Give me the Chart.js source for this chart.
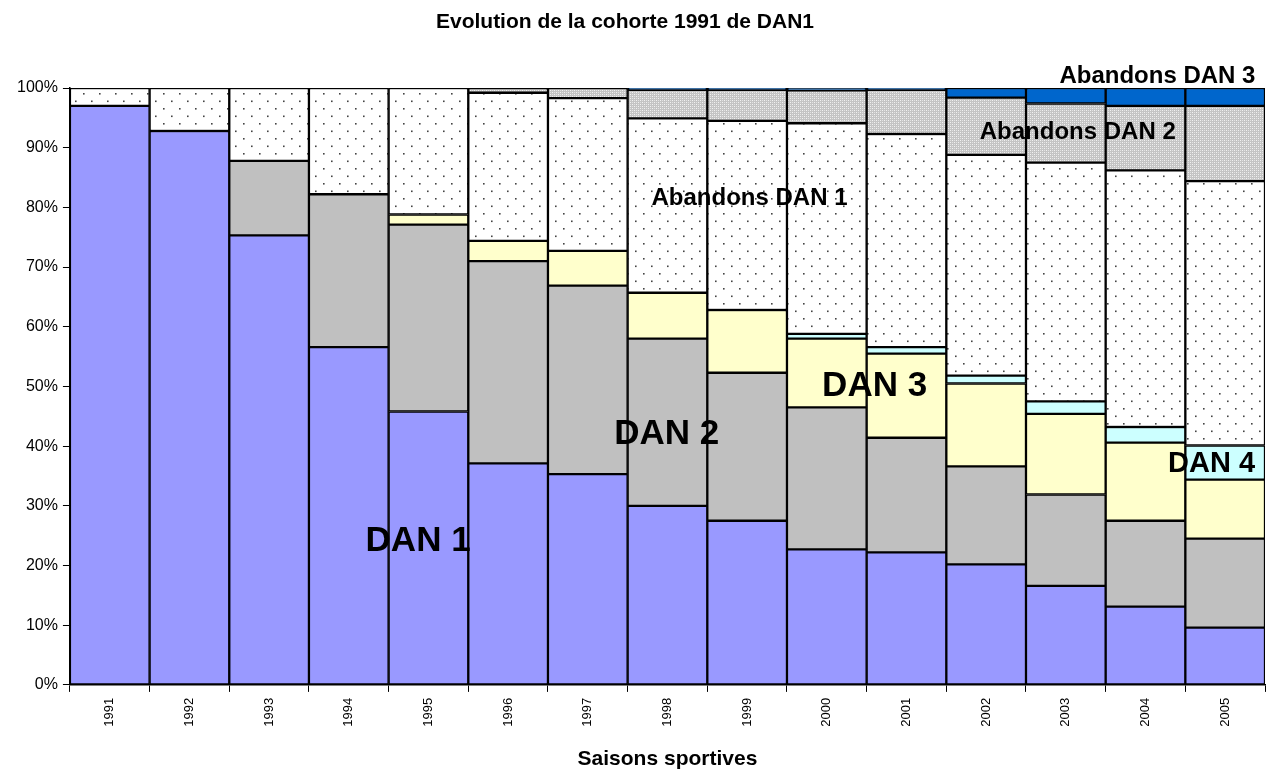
<!DOCTYPE html>
<html>
<head>
<meta charset="utf-8">
<script src="https://cdn.jsdelivr.net/npm/chart.js@4"></script>
<style>
  html, body { margin: 0; padding: 0; background: #fff; }
  #wrap { width: 1272px; height: 769px; }
</style>
</head>
<body>
<div id="wrap"><canvas id="graphique" width="1272" height="769"></canvas></div>
<script>
// données (en % de la cohorte)
const saisons = ['1991','1992','1993','1994','1995','1996','1997','1998','1999','2000','2001','2002','2003','2004','2005'];
const dan1 = [97.0, 92.8, 75.3, 56.6, 45.8, 37.1, 35.3, 30.0, 27.5, 22.7, 22.2, 20.2, 16.6, 13.1, 9.6];
const dan2 = [0, 0, 12.5, 25.6, 31.3, 33.9, 31.6, 28.0, 24.8, 23.8, 19.2, 16.4, 15.3, 14.4, 14.9];
const dan3 = [0, 0, 0, 0, 1.7, 3.4, 5.8, 7.7, 10.5, 11.5, 14.1, 13.9, 13.5, 13.1, 9.9];
const dan4 = [0, 0, 0, 0, 0, 0, 0, 0, 0, 0.8, 1.1, 1.3, 2.1, 2.6, 5.7];
const abandonsDan1 = [3.0, 7.2, 12.2, 17.8, 21.2, 24.8, 25.6, 29.2, 31.7, 35.3, 35.7, 37.0, 40.0, 43.0, 44.3];
const abandonsDan2 = [0, 0, 0, 0, 0, 0.8, 1.7, 4.8, 5.2, 5.5, 7.4, 9.6, 9.9, 10.8, 12.6];
const abandonsDan3 = [0, 0, 0, 0, 0, 0, 0, 0.3, 0.3, 0.4, 0.3, 1.6, 2.6, 3.0, 3.0];
const graduations = [0, 10, 20, 30, 40, 50, 60, 70, 80, 90, 100];

const police = '"Liberation Sans", Arial, sans-serif';

function motifPoints() {
    const c = document.createElement('canvas');
    c.width = 16; c.height = 15;
    const g = c.getContext('2d');
    g.fillStyle = '#fff';
    g.fillRect(0, 0, 16, 15);
    g.fillStyle = '#444';
    g.fillRect(3, 3, 1.6, 1.6);
    g.fillRect(11, 10.5, 1.6, 1.6);
    return g.createPattern(c, 'repeat');
}

function motifGris() {
    const c = document.createElement('canvas');
    c.width = 4; c.height = 4;
    const g = c.getContext('2d');
    g.fillStyle = '#c4c4c4';
    g.fillRect(0, 0, 4, 4);
    g.fillStyle = '#f2f2f2';
    g.fillRect(0, 0, 1, 1);
    g.fillRect(2, 2, 1, 1);
    g.fillStyle = '#e2e2e2';
    g.fillRect(2, 0, 1, 1);
    g.fillRect(0, 2, 1, 1);
    return g.createPattern(c, 'repeat');
}

// étiquettes posées sur l'axe (index de saison, valeur en %)
const etiquettes = [
    { texte: 'DAN 1', i: 3.87, v: 24, taille: 35 },
    { texte: 'DAN 2', i: 6.99, v: 42, taille: 35 },
    { texte: 'DAN 3', i: 9.6, v: 50, taille: 35 },
    { texte: 'DAN 4', i: 13.83, v: 37, taille: 29 },
    { texte: 'Abandons DAN 1', i: 8.03, v: 81.5, taille: 24 },
    { texte: 'Abandons DAN 2', i: 12.15, v: 92.5, taille: 24 },
    { texte: 'Abandons DAN 3', i: 13.15, v: 101.9, taille: 24 }
];

const pluginTextes = {
    id: 'textes',
    afterDraw(chart) {
        const ctx = chart.ctx;
        const x = chart.scales.x, y = chart.scales.y;
        ctx.save();
        ctx.fillStyle = '#000';
        ctx.textAlign = 'center';
        ctx.textBaseline = 'middle';
        etiquettes.forEach(e => {
            ctx.font = 'bold ' + e.taille + 'px ' + police;
            ctx.fillText(e.texte, x.getPixelForValue(e.i), y.getPixelForValue(e.v));
        });
        ctx.font = 'bold 21px ' + police;
        ctx.fillText('Evolution de la cohorte 1991 de DAN1', 625, 22);
        ctx.restore();
    }
};

function serie(label, data, couleur) {
    return {
        label: label,
        data: data,
        backgroundColor: couleur,
        borderColor: '#000',
        borderWidth: 1.5,
        borderSkipped: false,
        barPercentage: 1,
        categoryPercentage: 1
    };
}

const ctx = document.getElementById('graphique').getContext('2d');
new Chart(ctx, {
    type: 'bar',
    data: {
        labels: saisons,
        datasets: [
            serie('DAN 1', dan1, '#9999FF'),
            serie('DAN 2', dan2, '#C0C0C0'),
            serie('DAN 3', dan3, '#FFFFCC'),
            serie('DAN 4', dan4, '#CCFFFF'),
            serie('Abandons DAN 1', abandonsDan1, motifPoints()),
            serie('Abandons DAN 2', abandonsDan2, motifGris()),
            serie('Abandons DAN 3', abandonsDan3, '#0066CC')
        ]
    },
    options: {
        responsive: false,
        animation: false,
        layout: { padding: { top: 88, right: 7, left: 12, bottom: 0 } },
        plugins: {
            legend: { display: false },
            title: { display: false },
            tooltip: { enabled: false }
        },
        scales: {
            x: {
                stacked: true,
                offset: true,
                grid: { display: true, offset: true, drawOnChartArea: false, drawTicks: true, tickLength: 7, color: '#000' },
                border: { color: '#000', width: 1.5 },
                ticks: {
                    color: '#000',
                    font: { family: police, size: 13 },
                    minRotation: 90,
                    maxRotation: 90,
                    padding: 6
                },
                title: {
                    display: true,
                    text: 'Saisons sportives',
                    color: '#000',
                    font: { family: police, size: 21, weight: 'bold' },
                    padding: { top: 14, bottom: -3 }
                }
            },
            y: {
                stacked: true,
                min: 0,
                max: 100,
                afterBuildTicks(axis) {
                    axis.ticks = graduations.map(v => ({ value: v }));
                },
                grid: { display: true, drawOnChartArea: false, drawTicks: true, tickLength: 7, color: '#000' },
                border: { color: '#000', width: 1.5 },
                ticks: {
                    color: '#000',
                    font: { family: police, size: 16 },
                    padding: 5,
                    callback: v => v + '%'
                }
            }
        }
    },
    plugins: [pluginTextes]
});
</script>
</body>
</html>
